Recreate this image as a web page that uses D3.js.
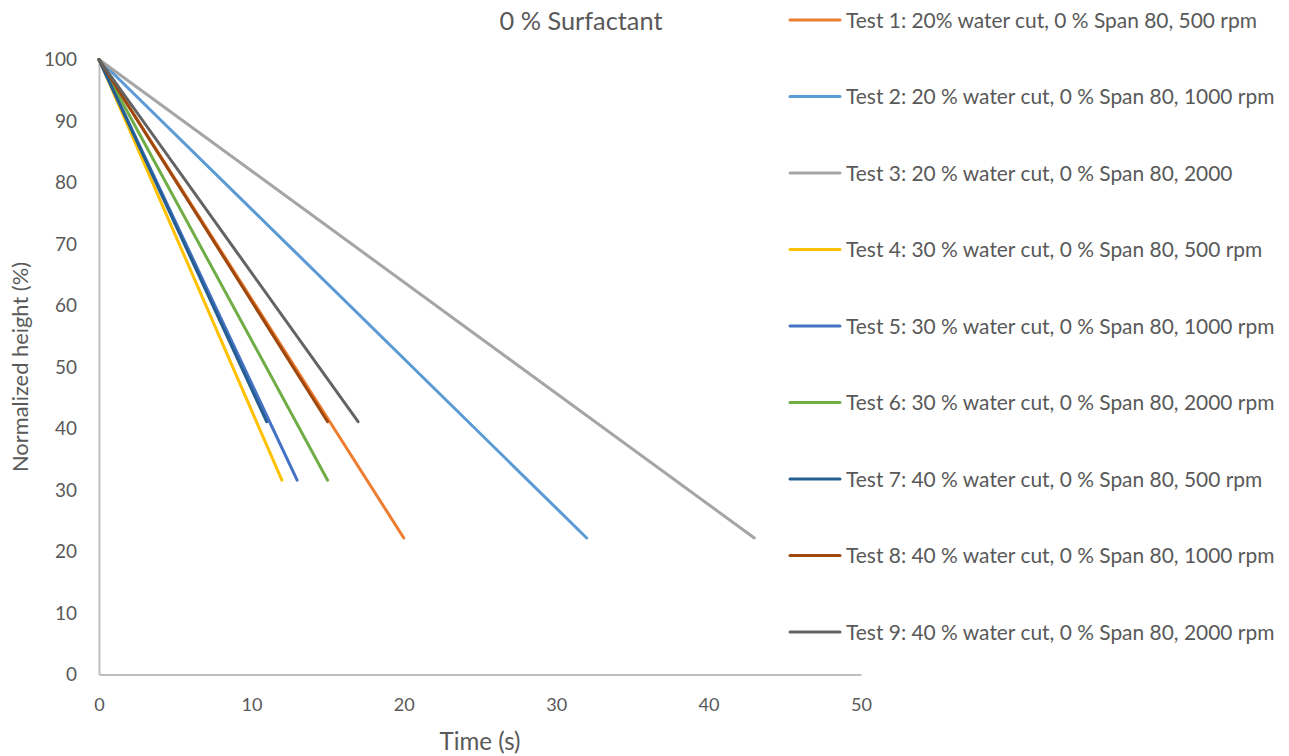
<!DOCTYPE html>
<html>
<head>
<meta charset="utf-8">
<script src="https://cdn.jsdelivr.net/npm/d3@7"></script>
<style>
  html, body { margin: 0; padding: 0; background: #fff; }
  svg { display: block; font-family: Lato, "Open Sans", "Liberation Sans", sans-serif; }
</style>
</head>
<body>
<svg id="chart" width="1289" height="756"></svg>
<script>
// Settling tests: normalized height vs time, 0 % surfactant
const seriesNames = [
  "Test 1: 20% water cut, 0 % Span 80, 500 rpm",
  "Test 2: 20 % water cut, 0 % Span 80, 1000 rpm",
  "Test 3: 20 % water cut, 0 % Span 80, 2000",
  "Test 4: 30 % water cut, 0 % Span 80, 500 rpm",
  "Test 5: 30 % water cut, 0 % Span 80, 1000 rpm",
  "Test 6: 30 % water cut, 0 % Span 80, 2000 rpm",
  "Test 7: 40 % water cut, 0 % Span 80, 500 rpm",
  "Test 8: 40 % water cut, 0 % Span 80, 1000 rpm",
  "Test 9: 40 % water cut, 0 % Span 80, 2000 rpm"
];
const seriesColors = ["#ED7D31", "#5B9BD5", "#A5A5A5", "#FFC000", "#4472C4", "#70AD47", "#255E91", "#9E480E", "#636363"];

// time (s) and normalized height (%) for each test
const test1Time = [0, 20], test1Height = [100, 22.2];
const test2Time = [0, 32], test2Height = [100, 22.2];
const test3Time = [0, 43], test3Height = [100, 22.2];
const test4Time = [0, 12], test4Height = [100, 31.6];
const test5Time = [0, 13], test5Height = [100, 31.6];
const test6Time = [0, 15], test6Height = [100, 31.6];
const test7Time = [0, 11], test7Height = [100, 41.1];
const test8Time = [0, 15], test8Height = [100, 41.1];
const test9Time = [0, 17], test9Height = [100, 41.1];

const xTicks = [0, 10, 20, 30, 40, 50];
const yTicks = [0, 10, 20, 30, 40, 50, 60, 70, 80, 90, 100];

const times = [test1Time, test2Time, test3Time, test4Time, test5Time, test6Time, test7Time, test8Time, test9Time];
const heights = [test1Height, test2Height, test3Height, test4Height, test5Height, test6Height, test7Height, test8Height, test9Height];
const series = seriesNames.map((name, i) => ({
  name, color: seriesColors[i],
  points: times[i].map((t, j) => ({ t, h: heights[i][j] }))
}));

const svg = d3.select("#chart");
const textColor = "#595959";
const axisColor = "#BFBFBF";

// Scale a text selection's font so a sample element spans the wanted width
function fitFont(sel, sampleNode, width) {
  const size = parseFloat(sel.style("font-size"));
  const w = sampleNode.getComputedTextLength();
  sel.style("font-size", (size * width / w).toFixed(2) + "px");
}

const x = d3.scaleLinear().domain([0, 50]).range([99, 861]);
const y = d3.scaleLinear().domain([0, 100]).range([674.5, 59.5]);

// Axes (no tick marks, labels only)
const xAxis = svg.append("g").attr("transform", `translate(0,${y(0)})`)
  .call(d3.axisBottom(x).tickValues(xTicks).tickSize(0).tickPadding(24));
const yAxis = svg.append("g").attr("transform", `translate(${x(0)},0)`)
  .call(d3.axisLeft(y).tickValues(yTicks).tickSize(0).tickPadding(22));
[xAxis, yAxis].forEach(g => {
  g.attr("font-family", null).attr("font-size", null);
  g.select(".domain").attr("stroke", axisColor).attr("stroke-width", 2);
  g.selectAll("text").attr("fill", textColor).style("font-size", "18px");
});
const yLabels = yAxis.selectAll("text");
fitFont(yLabels, yLabels.filter(d => d === 100).node(), 33);
const xLabels = xAxis.selectAll("text");
fitFont(xLabels, xLabels.filter(d => d === 10).node(), 21);

// Series lines
const line = d3.line().x(d => x(d.t)).y(d => y(d.h));
svg.append("g").selectAll("path").data(series).join("path")
  .attr("d", d => line(d.points))
  .attr("fill", "none")
  .attr("stroke", d => d.color)
  .attr("stroke-width", 3)
  .attr("stroke-linecap", "round")
  .attr("stroke-linejoin", "round");

// Title and axis titles
const title = svg.append("text").attr("x", 581).attr("y", 30).attr("text-anchor", "middle")
  .attr("fill", textColor).style("font-size", "22px").text("0 % Surfactant");
fitFont(title, title.node(), 163);
const xTitle = svg.append("text").attr("x", 480).attr("y", 750).attr("text-anchor", "middle")
  .attr("fill", textColor).style("font-size", "19px").text("Time (s)");
fitFont(xTitle, xTitle.node(), 81);
const yTitle = svg.append("text").attr("transform", "translate(28,367) rotate(-90)").attr("text-anchor", "middle")
  .attr("fill", textColor).style("font-size", "19px").text("Normalized height (%)");
fitFont(yTitle, yTitle.node(), 210);

// Legend
const legendY = d3.scaleLinear().domain([0, 8]).range([20, 632]);
const legend = svg.append("g").selectAll("g").data(series).join("g")
  .attr("transform", (d, i) => `translate(790,${legendY(i)})`);
legend.append("line").attr("x1", 0).attr("x2", 50).attr("y1", 0).attr("y2", 0)
  .attr("stroke", d => d.color).attr("stroke-width", 3).attr("stroke-linecap", "round");
const legendText = legend.append("text").attr("x", 56).attr("y", 0).attr("dy", "0.38em")
  .attr("fill", textColor).style("font-size", "18px").text(d => d.name);
fitFont(legendText, legendText.node(), 411);
</script>
</body>
</html>
